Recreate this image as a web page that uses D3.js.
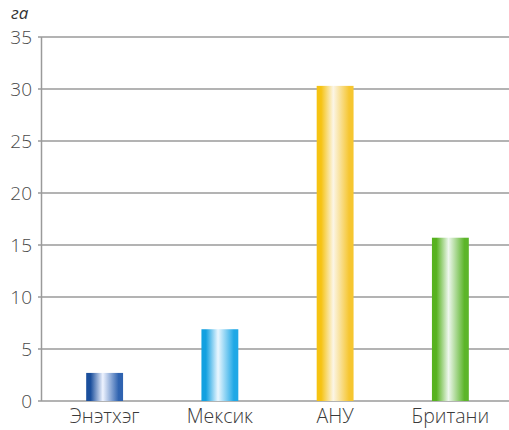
<!DOCTYPE html>
<html><head><meta charset="utf-8">
<script src="https://cdn.jsdelivr.net/npm/d3@7"></script>
<style>body{margin:0;background:#fff}svg{display:block}</style>
</head><body>
<svg id="c" width="509" height="430"></svg>
<script>
const categories = ["Энэтхэг","Мексик","АНУ","Британи"];
const values = [2.7, 6.9, 30.3, 15.7];
const yTicks = [0,5,10,15,20,25,30,35];
const unitLabel = "га";
const palette = [
  ["#1b4f9c","#eef3ff","#2f63b0"],
  ["#12a0e0","#eaf7ff","#1fa8e6"],
  ["#f6c312","#fbf5e6","#f6c630"],
  ["#56b21f","#eef7ee","#5cb52a"]
];

const svg = d3.select("#c");
const font = "'Open Sans','Noto Sans',sans-serif";
const x = d3.scaleBand().domain(categories).range([47, 508]).paddingInner(0.68).paddingOuter(0.34);
const y = d3.scaleLinear().domain([0,35]).range([401,37]);

const defs = svg.append("defs");
palette.forEach((p,i)=>{
  const g = defs.append("linearGradient").attr("id","g"+i).attr("x1","0").attr("x2","1").attr("y1","0").attr("y2","0");
  g.append("stop").attr("offset","0").attr("stop-color",p[0]);
  g.append("stop").attr("offset","0.12").attr("stop-color",p[0]);
  g.append("stop").attr("offset","0.45").attr("stop-color",p[1]);
  g.append("stop").attr("offset","0.88").attr("stop-color",p[2]);
  g.append("stop").attr("offset","1").attr("stop-color",p[2]);
});

// grid
svg.append("g").selectAll("line").data(yTicks).join("line")
  .attr("x1",38).attr("x2",509).attr("y1",d=>y(d)).attr("y2",d=>y(d))
  .attr("stroke","#9a9a9a").attr("stroke-width",1.3);

// y axis line
svg.append("line").attr("x1",41.5).attr("x2",41.5).attr("y1",y(35)).attr("y2",y(0))
  .attr("stroke","#9a9a9a").attr("stroke-width",1.5);

// y labels
svg.append("g").selectAll("text").data(yTicks).join("text")
  .attr("x",32).attr("y",d=>y(d)).attr("dy","0.38em").attr("text-anchor","end")
  .attr("font-family",font).attr("font-weight",300).attr("font-size",19).attr("fill","#4a4a4a").text(d=>d);

svg.append("text").attr("x",11).attr("y",19).attr("font-family",font).attr("font-style","italic")
  .attr("font-size",17).attr("fill","#333").text(unitLabel);

// bars
svg.append("g").selectAll("rect").data(values).join("rect")
  .attr("x",(d,i)=>x(categories[i])).attr("width",x.bandwidth())
  .attr("y",d=>y(d)).attr("height",d=>y(0)-y(d))
  .attr("fill",(d,i)=>`url(#g${i})`);

// x labels
svg.append("g").selectAll("text").data(categories).join("text")
  .attr("x",d=>x(d)+x.bandwidth()/2).attr("y",423).attr("text-anchor","middle")
  .attr("font-family",font).attr("font-weight",300).attr("font-size",19.5).attr("fill","#3a3a3a").text(d=>d);
</script>
</body></html>
